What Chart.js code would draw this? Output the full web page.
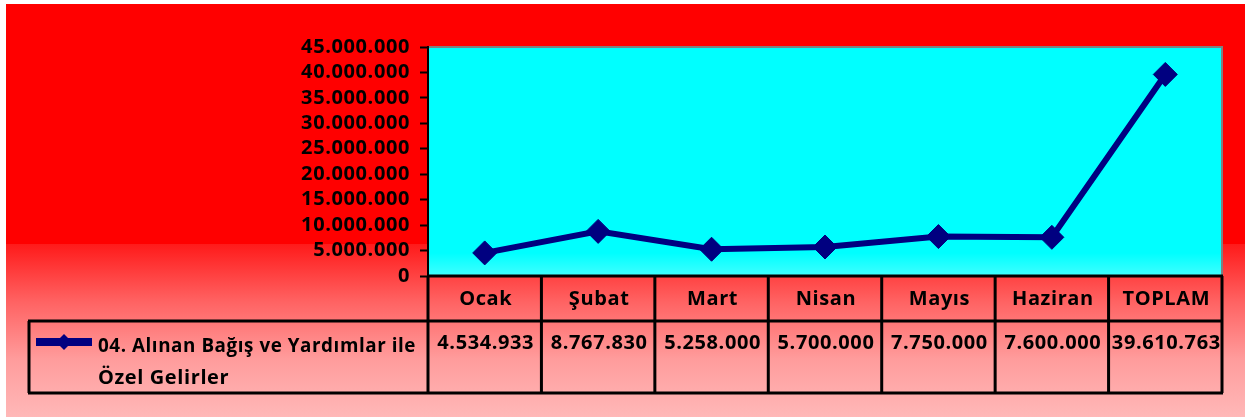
<!DOCTYPE html>
<html>
<head>
<meta charset="utf-8">
<script src="https://cdn.jsdelivr.net/npm/chart.js@4/dist/chart.umd.min.js"></script>
<style>
  html, body { margin: 0; padding: 0; background: #fff; }
  #wrap { width: 1245px; height: 417px; }
</style>
</head>
<body>
<div id="wrap"><canvas id="chart" width="1245" height="417"></canvas></div>
<script>
// data
const months = ["Ocak", "Şubat", "Mart", "Nisan", "Mayıs", "Haziran", "TOPLAM"];
const gelirler = [4534933, 8767830, 5258000, 5700000, 7750000, 7600000, 39610763];
const seriesName = ["04. Alınan Bağış ve Yardımlar ile", "Özel Gelirler"];
const yMax = 45000000;
const yStep = 5000000;

const navy = "#000080";
const fontFamily = "'Open Sans', Lato, sans-serif";
const fontSize = 20;
const spacing = "0.6px";

// 1234567 -> 1.234.567
function fmt(v){
    return String(v).replace(/\B(?=(\d{3})+(?!\d))/g, ".");
}

// background, plot area and the data table under the chart
const tablePlugin = {
    id: "tablePlugin",
    beforeDraw(chart){
        const ctx = chart.ctx;
        const a = chart.chartArea;
        ctx.save();
        ctx.fillStyle = "#ffffff";
        ctx.fillRect(0, 0, chart.width, chart.height);

        const bg = ctx.createLinearGradient(0, 4, 0, chart.height);
        bg.addColorStop(0, "#ff0000");
        bg.addColorStop(0.58, "#ff0000");
        bg.addColorStop(0.581, "#ff1a1a");
        bg.addColorStop(0.72, "#ff6262");
        bg.addColorStop(0.86, "#ff9c9c");
        bg.addColorStop(1, "#ffb8b8");
        ctx.fillStyle = bg;
        ctx.fillRect(6, 4, chart.width - 6, chart.height - 4);

        // cyan plot area
        const pg = ctx.createLinearGradient(0, a.top, 0, a.bottom);
        pg.addColorStop(0, "#00ffff");
        pg.addColorStop(0.9, "#00ffff");
        pg.addColorStop(1, "#40ffff");
        ctx.fillStyle = pg;
        ctx.fillRect(a.left, a.top, a.right - a.left, a.bottom - a.top);
        ctx.strokeStyle = "#808080";
        ctx.lineWidth = 2;
        ctx.beginPath();
        ctx.moveTo(a.left, a.top);
        ctx.lineTo(a.right, a.top);
        ctx.lineTo(a.right, a.bottom);
        ctx.stroke();
        ctx.restore();
        // wider text, like the stretched original
        ctx.letterSpacing = spacing;
    },
    afterDraw(chart){
        const ctx = chart.ctx;
        const a = chart.chartArea;
        const x = chart.scales.x;
        const n = months.length;
        const cw = (a.right - a.left) / n;
        const rowTop = a.bottom;
        const rowMid = a.bottom + 45;
        const rowBot = a.bottom + 117;
        const legLeft = 29;

        ctx.save();
        ctx.strokeStyle = "#000000";
        ctx.lineWidth = 3;
        ctx.beginPath();
        ctx.moveTo(a.left, rowTop); ctx.lineTo(a.right + 1, rowTop);
        ctx.moveTo(legLeft - 1, rowMid); ctx.lineTo(a.right + 1, rowMid);
        ctx.moveTo(legLeft - 1, rowBot); ctx.lineTo(a.right + 1, rowBot);
        ctx.moveTo(legLeft, rowMid); ctx.lineTo(legLeft, rowBot);
        for (let i = 0; i <= n; i++){
            const bx = a.left + i * cw;
            ctx.moveTo(bx, rowTop); ctx.lineTo(bx, rowBot);
        }
        ctx.stroke();

        ctx.fillStyle = "#000000";
        ctx.font = "bold " + fontSize + "px " + fontFamily;
        ctx.letterSpacing = spacing;
        ctx.textAlign = "center";
        ctx.textBaseline = "middle";
        months.forEach((m, i) => {
            const cx = x.getPixelForValue(i) + 1;
            ctx.fillText(m, cx, rowTop + 23, cw - 6);
            ctx.fillText(fmt(gelirler[i]), cx, rowMid + 22, cw - 4);
        });

        // legend key
        const ly = rowMid + 21;
        ctx.strokeStyle = navy;
        ctx.lineWidth = 8;
        ctx.beginPath();
        ctx.moveTo(36, ly); ctx.lineTo(92, ly);
        ctx.stroke();
        ctx.fillStyle = navy;
        ctx.beginPath();
        ctx.moveTo(64, ly - 8); ctx.lineTo(72, ly); ctx.lineTo(64, ly + 8); ctx.lineTo(56, ly);
        ctx.closePath();
        ctx.fill();

        ctx.fillStyle = "#000000";
        ctx.textAlign = "left";
        ctx.fillText(seriesName[0], 98, rowMid + 25, a.left - 98 - 12);
        ctx.fillText(seriesName[1], 98, rowMid + 57, a.left - 98 - 12);
        ctx.restore();
    }
};

const ctx = document.getElementById("chart");

const gelirChart = new Chart(ctx, {
    type: "line",
    data: {
        labels: months,
        datasets: [{
            label: seriesName.join(" "),
            data: gelirler,
            borderColor: navy,
            backgroundColor: navy,
            borderWidth: 6,
            pointStyle: "rectRot",
            pointRadius: 12,
            pointBorderWidth: 1,
            pointBackgroundColor: navy,
            pointBorderColor: navy,
            tension: 0
        }]
    },
    options: {
        responsive: false,
        animation: false,
        layout: {
            padding: { left: 0, right: 23, top: 47, bottom: 141 }
        },
        plugins: {
            legend: { display: false },
            tooltip: { enabled: false }
        },
        scales: {
            x: {
                display: false,
                offset: true
            },
            y: {
                min: 0,
                max: yMax,
                afterFit(scale){ scale.width = 428; },
                ticks: {
                    stepSize: yStep,
                    autoSkip: false,
                    padding: 10,
                    color: "#000000",
                    font: { family: fontFamily, size: fontSize, weight: "bold", lineHeight: 1 },
                    callback: v => fmt(v)
                },
                grid: {
                    drawOnChartArea: false,
                    drawTicks: true,
                    tickLength: 8,
                    tickWidth: 2,
                    tickColor: "#000000"
                },
                border: { color: "#000000", width: 2 }
            }
        }
    },
    plugins: [tablePlugin]
});
</script>
</body>
</html>
